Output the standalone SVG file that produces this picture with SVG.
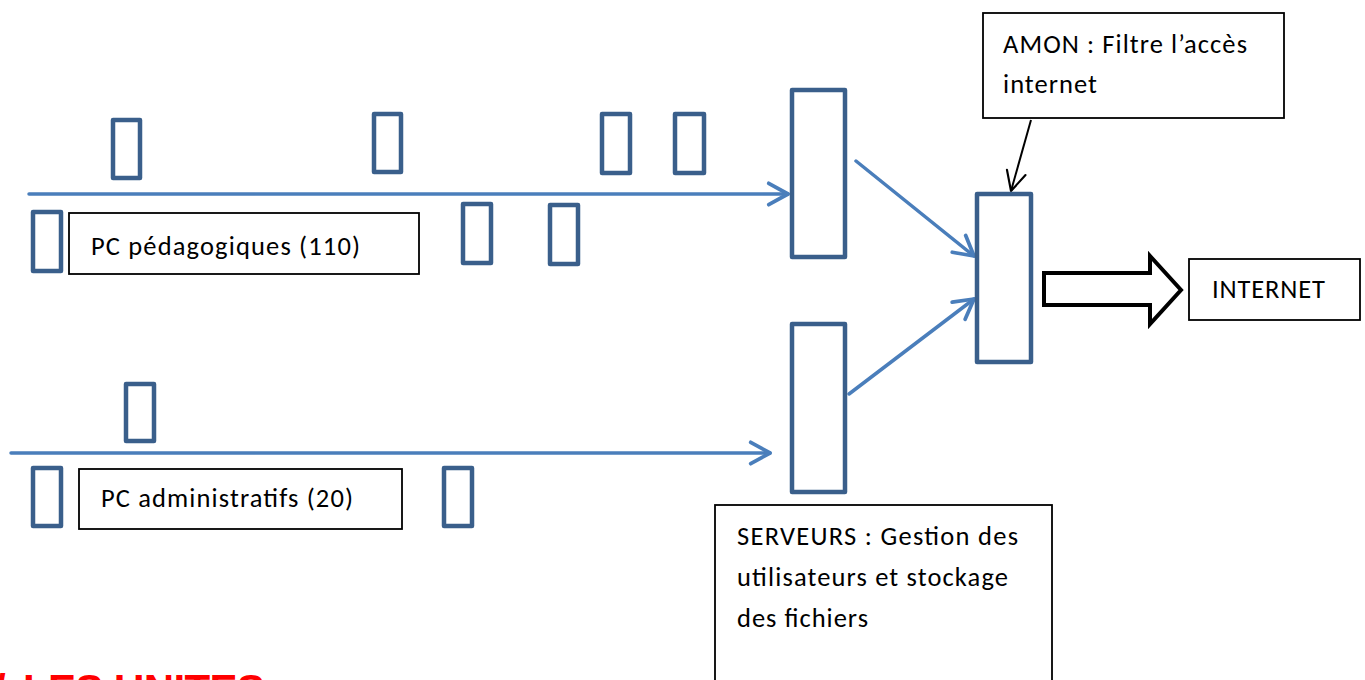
<svg xmlns="http://www.w3.org/2000/svg" width="1365" height="680" viewBox="0 0 1365 680">
  <style>
    .pc { fill: #ffffff; stroke: #3a5f8b; stroke-width: 4.5; stroke-linejoin: round; }
    .srv { fill: #ffffff; stroke: #3a5f8b; stroke-width: 4.5; stroke-linejoin: round; }
    .box { fill: #ffffff; stroke: #000000; stroke-width: 1.8; }
    .link { fill: none; stroke: #4a7ebb; stroke-width: 3.5; stroke-linecap: round; }
    .lbl { font-family: Calibri, Carlito, Lato, "Liberation Sans", sans-serif; font-size: 26.5px; fill: #000000; }
    .title { font-family: "Liberation Sans", Arial, sans-serif; font-weight: bold; font-size: 42px; fill: #ff0000; }
  </style>
  <defs>
    <marker id="headBlue" markerUnits="userSpaceOnUse" markerWidth="30" markerHeight="30" viewBox="-22 -14 26 28" refX="0" refY="0" orient="auto">
      <path d="M-18,-10 L0,0 L-18,10" fill="none" stroke="#4a7ebb" stroke-width="3.5" stroke-linecap="round" stroke-linejoin="round"/>
    </marker>
    <marker id="headBlack" markerUnits="userSpaceOnUse" markerWidth="30" markerHeight="30" viewBox="-22 -14 26 28" refX="0" refY="0" orient="auto">
      <path d="M-18,-9 L0,0 L-18,9" fill="none" stroke="#000000" stroke-width="2" stroke-linecap="round" stroke-linejoin="round"/>
    </marker>
  </defs>

  <rect width="1365" height="680" fill="#ffffff"/>

  <!-- network connectors -->
  <g id="connectors">
    <line class="link" x1="29" y1="194" x2="788" y2="194" marker-end="url(#headBlue)"/>
    <line class="link" x1="11" y1="453" x2="770" y2="453" marker-end="url(#headBlue)"/>
    <line class="link" x1="856" y1="161" x2="974" y2="256" marker-end="url(#headBlue)"/>
    <line class="link" x1="849" y1="394" x2="974" y2="299" marker-end="url(#headBlue)"/>
    <line x1="1031" y1="120" x2="1011" y2="191" stroke="#000000" stroke-width="2" marker-end="url(#headBlack)"/>
    <polygon points="1044,273 1150,273 1150,256 1181,290 1150,324 1150,305 1044,305" fill="#ffffff" stroke="#000000" stroke-width="4" stroke-linejoin="miter"/>
  </g>

  <!-- pedagogical workstations -->
  <g id="pc-pedagogiques">
    <rect class="pc" x="113" y="120" width="27" height="58"/>
    <rect class="pc" x="374" y="114" width="27" height="58"/>
    <rect class="pc" x="602" y="114" width="28" height="59"/>
    <rect class="pc" x="675" y="114" width="29" height="59"/>
    <rect class="pc" x="33" y="212" width="28" height="59"/>
    <rect class="pc" x="463" y="204" width="28" height="59"/>
    <rect class="pc" x="550" y="205" width="28" height="59"/>
  </g>
  <g id="label-pedagogiques">
    <rect class="box" x="69" y="213" width="350" height="61"/>
    <text class="lbl" x="91" y="255" textLength="269">PC pédagogiques (110)</text>
  </g>

  <!-- administrative workstations -->
  <g id="pc-administratifs">
    <rect class="pc" x="126" y="384" width="28" height="57"/>
    <rect class="pc" x="33" y="468" width="28" height="58"/>
    <rect class="pc" x="444" y="468" width="28" height="58"/>
  </g>
  <g id="label-administratifs">
    <rect class="box" x="79" y="469" width="323" height="60"/>
    <text class="lbl" x="101" y="507" textLength="252">PC administratifs (20)</text>
  </g>

  <!-- servers -->
  <g id="serveur-peda">
    <rect class="srv" x="792" y="90" width="53" height="167"/>
  </g>
  <g id="serveur-admin">
    <rect class="srv" x="792" y="324" width="53" height="168"/>
  </g>
  <g id="label-serveurs">
    <rect class="box" x="715" y="505" width="337" height="190"/>
    <text class="lbl" x="737" y="545" textLength="281">SERVEURS : Gestion des</text>
    <text class="lbl" x="737" y="586" textLength="271">utilisateurs et stockage</text>
    <text class="lbl" x="737" y="627" textLength="131">des fichiers</text>
  </g>

  <!-- AMON firewall -->
  <g id="amon">
    <rect class="srv" x="977" y="194" width="54" height="168"/>
  </g>
  <g id="label-amon">
    <rect class="box" x="983" y="13" width="301" height="105"/>
    <text class="lbl" x="1003" y="53" textLength="244">AMON : Filtre l’accès</text>
    <text class="lbl" x="1003" y="93" textLength="94">internet</text>
  </g>

  <!-- internet -->
  <g id="internet">
    <rect class="box" x="1189" y="259" width="171" height="61"/>
    <text class="lbl" x="1212" y="298" textLength="113">INTERNET</text>
  </g>

  <!-- section heading -->
  <g id="heading">
    <text class="title" y="704"><tspan x="-6">/</tspan><tspan x="23" textLength="242">LES UNITES</tspan></text>
  </g>
</svg>
